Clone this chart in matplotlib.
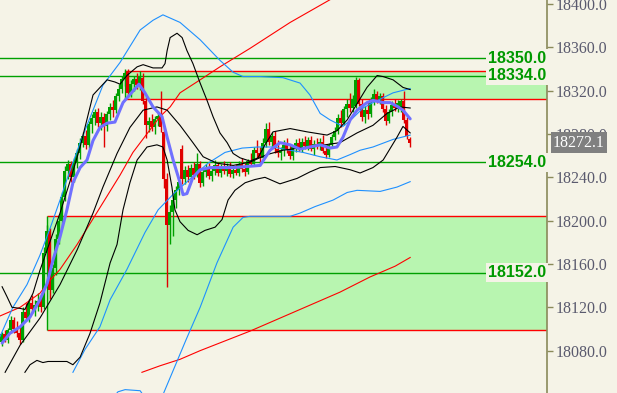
import numpy as np
import matplotlib
matplotlib.use("Agg")
import matplotlib.pyplot as plt
from matplotlib.patches import Rectangle

# couleurs
bg = '#f5f3e7'
zone = '#b8f5b0'
vert = '#00a000'
rouge = '#ff0000'
bleu = '#1e90ff'
violet = '#7070ff'
axe = '#8a8a5a'

# bougies (une par barre)
opens = [18088, 18095, 18090, 18099, 18108, 18100, 18096, 18090, 18116, 18110,
         18124, 18118, 18122, 18126, 18120, 18170, 18190, 18136, 18156, 18183,
         18200, 18222, 18246, 18252, 18240, 18254, 18262, 18272, 18278, 18270,
         18289, 18295, 18300, 18290, 18296, 18287, 18298, 18305, 18302, 18315,
         18322, 18331, 18337, 18318, 18326, 18331, 18325, 18332, 18310, 18288,
         18292, 18286, 18294, 18298, 18282, 18238, 18196, 18208, 18219, 18228,
         18266, 18238, 18247, 18240, 18249, 18242, 18252, 18235, 18245, 18249,
         18241, 18246, 18251, 18244, 18249, 18246, 18250, 18243, 18247, 18244,
         18252, 18248, 18245, 18255, 18252, 18265, 18262, 18258, 18272, 18285,
         18273, 18278, 18266, 18262, 18265, 18270, 18266, 18260, 18268, 18272,
         18267, 18273, 18269, 18274, 18266, 18271, 18269, 18273, 18264, 18261,
         18270, 18277, 18283, 18295, 18290, 18303, 18308, 18304, 18306, 18330,
         18308, 18296, 18302, 18298, 18311, 18317, 18312, 18315, 18303, 18292,
         18300, 18307, 18304, 18304, 18310, 18293, 18275]
closes = [18095, 18090, 18099, 18108, 18100, 18096, 18090, 18116, 18110, 18124,
          18118, 18122, 18126, 18120, 18170, 18190, 18136, 18156, 18183, 18200,
          18222, 18246, 18252, 18240, 18254, 18262, 18272, 18278, 18270, 18289,
          18295, 18300, 18290, 18296, 18287, 18298, 18305, 18302, 18315, 18322,
          18331, 18336, 18318, 18326, 18331, 18325, 18334, 18310, 18288, 18292,
          18286, 18294, 18297, 18286, 18238, 18196, 18208, 18219, 18228, 18236,
          18238, 18247, 18240, 18249, 18242, 18252, 18235, 18245, 18249, 18241,
          18246, 18251, 18244, 18249, 18246, 18250, 18243, 18247, 18244, 18252,
          18248, 18245, 18255, 18252, 18265, 18262, 18258, 18272, 18285, 18273,
          18278, 18266, 18262, 18265, 18270, 18266, 18260, 18268, 18272, 18267,
          18273, 18269, 18274, 18266, 18271, 18269, 18273, 18264, 18261, 18270,
          18277, 18283, 18295, 18290, 18303, 18308, 18304, 18312, 18330, 18308,
          18296, 18302, 18298, 18311, 18317, 18312, 18315, 18303, 18292, 18300,
          18307, 18304, 18309, 18310, 18293, 18278, 18272.1]
highs = [18097, 18099, 18101, 18112, 18111, 18107, 18103, 18120, 18124, 18128,
         18131, 18127, 18133, 18130, 18176, 18196, 18193, 18160, 18188, 18205,
         18226, 18250, 18256, 18255, 18258, 18266, 18276, 18282, 18284, 18292,
         18298, 18303, 18304, 18300, 18299, 18301, 18309, 18311, 18318, 18326,
         18334, 18340, 18340, 18330, 18334, 18336, 18338, 18336, 18314, 18296,
         18298, 18297, 18299, 18320, 18286, 18244, 18214, 18224, 18232, 18240,
         18270, 18250, 18251, 18252, 18254, 18262, 18255, 18248, 18252, 18253,
         18250, 18256, 18254, 18252, 18255, 18253, 18254, 18250, 18252, 18255,
         18258, 18253, 18257, 18262, 18268, 18274, 18268, 18276, 18290, 18291,
         18282, 18283, 18274, 18268, 18274, 18276, 18271, 18270, 18275, 18276,
         18276, 18278, 18277, 18278, 18274, 18276, 18276, 18279, 18270, 18272,
         18280, 18286, 18298, 18302, 18306, 18312, 18318, 18316, 18333, 18332,
         18312, 18306, 18310, 18314, 18322, 18320, 18318, 18318, 18307, 18303,
         18310, 18312, 18311, 18312, 18320, 18296, 18277]
lows = [18084, 18088, 18087, 18096, 18096, 18093, 18086, 18088, 18107, 18106,
        18115, 18112, 18117, 18116, 18118, 18165, 18128, 18133, 18150, 18178,
        18195, 18218, 18238, 18236, 18236, 18249, 18257, 18268, 18266, 18267,
        18281, 18288, 18286, 18284, 18268, 18283, 18293, 18296, 18299, 18310,
        18318, 18324, 18314, 18314, 18320, 18322, 18321, 18308, 18276, 18282,
        18283, 18280, 18287, 18282, 18230, 18139, 18178, 18186, 18212, 18224,
        18234, 18234, 18236, 18237, 18238, 18240, 18231, 18232, 18240, 18238,
        18237, 18242, 18241, 18240, 18243, 18241, 18240, 18239, 18242, 18241,
        18245, 18241, 18243, 18250, 18250, 18258, 18254, 18256, 18268, 18270,
        18266, 18262, 18259, 18256, 18260, 18262, 18257, 18256, 18263, 18264,
        18263, 18266, 18265, 18264, 18261, 18266, 18265, 18262, 18258, 18259,
        18267, 18274, 18280, 18286, 18288, 18296, 18300, 18300, 18304, 18306,
        18292, 18290, 18294, 18296, 18307, 18309, 18308, 18300, 18288, 18290,
        18297, 18301, 18300, 18300, 18290, 18275, 18268]

# moyenne mobile courte (violet)
ma_x = [0.2, 2.8, 6.2, 9.5, 12.8, 15.2, 17.2, 19.5, 21.8, 23.8, 26.2, 28.5, 30.5, 32.8,
        35.2, 37.8, 40.5, 45.8, 47.8, 50.5, 53.5, 55.2, 57.2, 59.5, 60.5, 61.8, 63.8,
        66.2, 69.5, 72.8, 77.2, 81.8, 86.2, 89.5, 92.8, 96.2, 99.5, 102.8, 106.2, 109.5,
        111.8, 113.8, 116.2, 118.5, 121.8, 123.8, 127.2, 129.5, 132.2, 133.8, 136.2]
ma_y = [18087, 18096, 18102, 18111, 18127, 18142, 18164, 18185, 18210, 18235, 18249,
        18256, 18274, 18286, 18290, 18291, 18309, 18326, 18318, 18305, 18296, 18277,
        18256, 18235, 18224, 18225, 18240, 18247, 18249, 18249, 18249, 18250, 18251,
        18265, 18272, 18270, 18266, 18268, 18270, 18267, 18268, 18277, 18293, 18302,
        18309, 18311, 18309, 18309, 18305, 18302, 18294]

# bandes noires
bb_up_x = [0.2, 1.8, 3.5, 6.2, 7.8, 10.5, 12.8, 16.2, 19.5, 22.8, 26.2, 30.5, 35.2,
           37.8, 39.5, 41.8, 45.2, 47.2, 50.5, 53.5, 54.5, 55.2, 56.2, 58.5, 60.2, 61.8,
           63.8, 66.2, 68.5, 70.5, 72.8, 75.2, 77.2, 79.5, 82.8, 85.5, 87.8, 90.5, 96.2,
           101.8, 108.5, 111.8, 115.2, 118.5, 121.8, 125.2, 127.2, 130.5, 133.8, 136.2]
bb_up_y = [18139, 18130, 18120, 18119, 18118, 18133, 18154, 18181, 18207, 18236, 18268,
           18316, 18330, 18328, 18326, 18334, 18342, 18344, 18341, 18341, 18345, 18357,
           18369, 18373, 18369, 18357, 18345, 18327, 18311, 18296, 18281, 18272, 18262,
           18258, 18255, 18258, 18270, 18282, 18285, 18282, 18279, 18283, 18293, 18308,
           18323, 18334, 18333, 18330, 18323, 18321]
bb_mid_x = [1.2, 6.2, 12.8, 19.5, 25.2, 30.5, 33.8, 38.5, 42.8, 47.2, 51.8, 55.2, 59.5,
            63.8, 67.2, 71.8, 77.2, 82.8, 88.5, 93.8, 101.8, 107.8, 112.8, 118.5, 123.8,
            128.5, 132.8, 136.2]
bb_mid_y = [18060, 18085, 18110, 18141, 18173, 18207, 18231, 18262, 18286, 18302, 18305,
            18302, 18288, 18272, 18259, 18253, 18251, 18254, 18261, 18265, 18268, 18270,
            18272, 18281, 18288, 18299, 18305, 18304]
bb_low_x = [7.8, 9.5, 11.8, 13.8, 15.5, 19.5, 21.8, 23.8, 26.2, 29.5, 32.8, 36.2, 38.5,
            40.5, 42.8, 45.2, 48.5, 51.8, 53.8, 55.2, 56.8, 57.8, 59.5, 62.2, 65.2, 67.8,
            71.2, 73.5, 75.5, 77.8, 81.2, 84.5, 87.8, 92.8, 98.5, 102.8, 106.2, 111.2,
            116.2, 119.5, 123.8, 127.2, 131.8, 133.8, 136.2]
bb_low_y = [18060, 18067, 18071, 18069, 18070, 18070, 18070, 18067, 18074, 18096, 18124,
            18161, 18178, 18210, 18235, 18256, 18268, 18270, 18268, 18256, 18231, 18210,
            18199, 18191, 18187, 18191, 18194, 18201, 18219, 18228, 18235, 18238, 18240,
            18234, 18239, 18245, 18249, 18250, 18247, 18244, 18249, 18256, 18277, 18287,
            18281]

# bandes bleues
bl_up_x = [-0.5, 3.8, 8.5, 12.8, 16.2, 19.5, 21.8, 26.2, 30.5, 33.8, 39.5, 46.2, 50.5,
           53.8, 59.5, 66.2, 72.8, 77.2, 80.5, 86.2, 93.8, 99.5, 102.8, 106.2, 109.5,
           113.8, 117.2, 120.5, 123.8, 130.5, 136.2]
bl_up_y = [18093, 18120, 18141, 18168, 18193, 18219, 18238, 18272, 18302, 18325, 18346,
           18376, 18385, 18390, 18383, 18367, 18348, 18337, 18333, 18333, 18332, 18327,
           18316, 18299, 18293, 18287, 18295, 18304, 18309, 18318, 18322]
bl_mid_x = [23.8, 27.8, 32.8, 36.2, 41.8, 47.8, 52.2, 57.8, 63.5, 68.8, 74.5, 80.2,
            85.5, 90.5, 96.2, 100.5, 106.2, 111.8, 116.2, 119.5, 123.8, 130.5, 136.2]
bl_mid_y = [18060, 18081, 18102, 18127, 18155, 18189, 18210, 18226, 18240, 18253, 18263,
            18267, 18268, 18268, 18265, 18263, 18259, 18256, 18261, 18265, 18268, 18275,
            18279]
bl_low_x = [36.5, 38.8, 41.2, 46.2, 48.5, np.nan, 53.0, 56.8, 61.5, 66.2, 71.8, 77.2,
            80.5, 82.8, 96.2, 99.5, 104.5, 110.5, 115.2, 118.5, 126.2, 131.8, 136.2]
bl_low_y = [18034, 18042, 18044, 18043, 18034, np.nan, 18034, 18059, 18090, 18120, 18161,
            18194, 18203, 18204, 18204, 18207, 18213, 18219, 18226, 18228, 18227, 18231,
            18236]

# moyennes rouges
red1_x = [-0.5, 6.2, 12.8, 16.2, 19.5, 25.2, 32.8, 39.5, 43.8, 52.8, 56.2, 59.5, 66.2,
          72.8, 82.8, 96.2, 109.5, 111.2]
red1_y = [18112, 18120, 18133, 18145, 18155, 18178, 18212, 18242, 18263, 18296, 18305,
          18318, 18330, 18342, 18359, 18383, 18404, 18407]
red2_x = [46.8, 52.8, 59.5, 66.2, 74.5, 82.8, 92.8, 102.8, 112.8, 122.8, 131.2, 136.2]
red2_y = [18060, 18066, 18072, 18080, 18089, 18098, 18110, 18122, 18134, 18148, 18158,
          18166]

# niveaux et zones
niveaux = [18350.0, 18334.0, 18254.0, 18152.0]
zone_haut = (41, 18312.0, 18338.0)
zone_bas = (15, 18099.0, 18204.0)
dernier = 18272.1
ticks = list(range(18080, 18401, 40))

xmax = 181.8
fig = plt.figure(figsize=(6.17, 3.93), dpi=100)
fig.patch.set_facecolor(bg)
ax = fig.add_axes([0, 0, 547 / 617, 1])
ax.set_facecolor(bg)
ax.set_xlim(-0.5, xmax)
ax.set_ylim(18040.9, 18403.7)

# zones vertes
for debut, bas, haut in [zone_haut, zone_bas]:
    ax.add_patch(Rectangle((debut, bas), xmax - debut, haut - bas,
                           facecolor=zone, edgecolor='none', zorder=0.5))
    ax.hlines([bas, haut], debut, xmax, colors=rouge, lw=1.0, zorder=1.2)
    ax.vlines(debut, bas, haut, colors=vert, lw=1.0, zorder=1.2)

for niv in niveaux:
    ax.axhline(niv, color=vert, lw=1.0, zorder=1.1)

# bougies
x = np.arange(len(closes))
for i in x:
    o, c = opens[i], closes[i]
    col = vert if c >= o else '#e00000'
    ax.vlines(i, lows[i], highs[i], colors=col, lw=1.0, zorder=2)
    h = max(abs(c - o), 0.9)
    ax.bar(i, h, bottom=min(o, c), width=0.78, color=col, lw=0, zorder=2)

# indicateurs
ax.plot(red1_x, red1_y, color=rouge, lw=0.8, zorder=3)
ax.plot(red2_x, red2_y, color=rouge, lw=0.8, zorder=3)
for xs, ys in [(bl_up_x, bl_up_y), (bl_mid_x, bl_mid_y), (bl_low_x, bl_low_y)]:
    ax.plot(xs, ys, color=bleu, lw=0.8, zorder=3)
for xs, ys in [(bb_up_x, bb_up_y), (bb_mid_x, bb_mid_y), (bb_low_x, bb_low_y)]:
    ax.plot(xs, ys, color='black', lw=0.8, zorder=3)
ax.plot(ma_x, ma_y, color=violet, lw=2.2, zorder=4, solid_capstyle='round')

# etiquettes des niveaux
for niv in niveaux:
    ax.text(0.998, niv, f"{niv:.1f}", transform=ax.get_yaxis_transform(),
            ha='right', va='center', fontsize=11.5, fontweight='bold',
            family='Liberation Sans', color='#009900', zorder=6,
            bbox=dict(boxstyle='square,pad=0.12', fc=bg, ec='none'))

# axe des prix
for s in ['top', 'left', 'bottom']:
    ax.spines[s].set_visible(False)
ax.spines['right'].set_color(axe)
ax.spines['right'].set_linewidth(1.2)
ax.set_xticks([])
ax.yaxis.tick_right()
ax.set_yticks(ticks)
ax.set_yticklabels([f"{t:.1f}" for t in ticks], family='Liberation Serif')
ax.tick_params(axis='y', direction='out', length=4, width=1, color=axe,
               labelcolor='#5a5a6e', labelsize=11.5, pad=2)

ax.text(1.011, dernier, f"{dernier:.1f}", transform=ax.get_yaxis_transform(),
        ha='left', va='center', fontsize=11.5, family='Liberation Serif',
        color='white', clip_on=False, zorder=7,
        bbox=dict(boxstyle='square,pad=0.15', fc='#808080', ec='none'))

plt.savefig('out.png', dpi=100, facecolor=bg)
